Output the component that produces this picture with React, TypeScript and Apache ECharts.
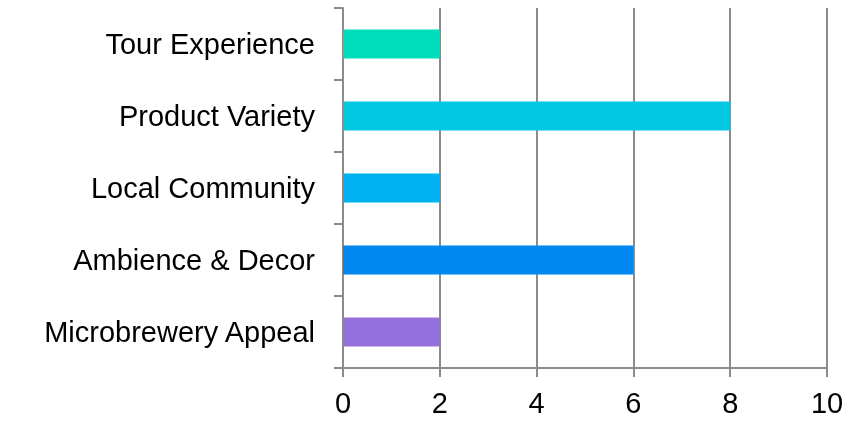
import React, { useEffect, useRef } from "react";
import * as echarts from "echarts";

const categories = [
  "Microbrewery Appeal",
  "Ambience & Decor",
  "Local Community",
  "Product Variety",
  "Tour Experience",
];
const values = [2, 6, 2, 8, 2];
const colors = ["#9370DB", "#0088F0", "#00B0F0", "#00C8E0", "#00DDBB"];
const xTicks = [0, 2, 4, 6, 8, 10];

export default function App() {
  const ref = useRef<HTMLDivElement>(null);
  useEffect(() => {
    const chart = echarts.init(ref.current!, null, { renderer: "svg" });
    const font = "'Liberation Sans', Arial, sans-serif";
    chart.setOption({
      animation: false,
      grid: { left: 343, right: 22, top: 8, bottom: 54, containLabel: false },
      xAxis: {
        type: "value",
        min: xTicks[0],
        max: xTicks[xTicks.length - 1],
        interval: 2,
        axisLine: { show: true, lineStyle: { color: "#8c8c8c", width: 2 } },
        axisTick: { show: true, length: 9, lineStyle: { color: "#8c8c8c", width: 2 } },
        splitLine: { show: true, lineStyle: { color: "#8c8c8c", width: 2 } },
        axisLabel: { color: "#000", fontSize: 29, fontFamily: font, margin: 20 },
      },
      yAxis: {
        type: "category",
        data: categories,
        axisLine: { show: true, lineStyle: { color: "#8c8c8c", width: 2 } },
        axisTick: { show: true, length: 9, lineStyle: { color: "#8c8c8c", width: 2 } },
        splitLine: { show: false },
        axisLabel: { color: "#000", fontSize: 29, fontFamily: font, margin: 28 },
      },
      series: [
        {
          type: "bar",
          data: values.map((v, i) => ({ value: v, itemStyle: { color: colors[i] } })),
          barWidth: 29,
        },
      ],
    });
    return () => chart.dispose();
  }, []);
  return (
    <div
      ref={ref}
      style={{ position: "fixed", left: 0, top: 0, width: 849, height: 422, overflow: "hidden" }}
    />
  );
}
